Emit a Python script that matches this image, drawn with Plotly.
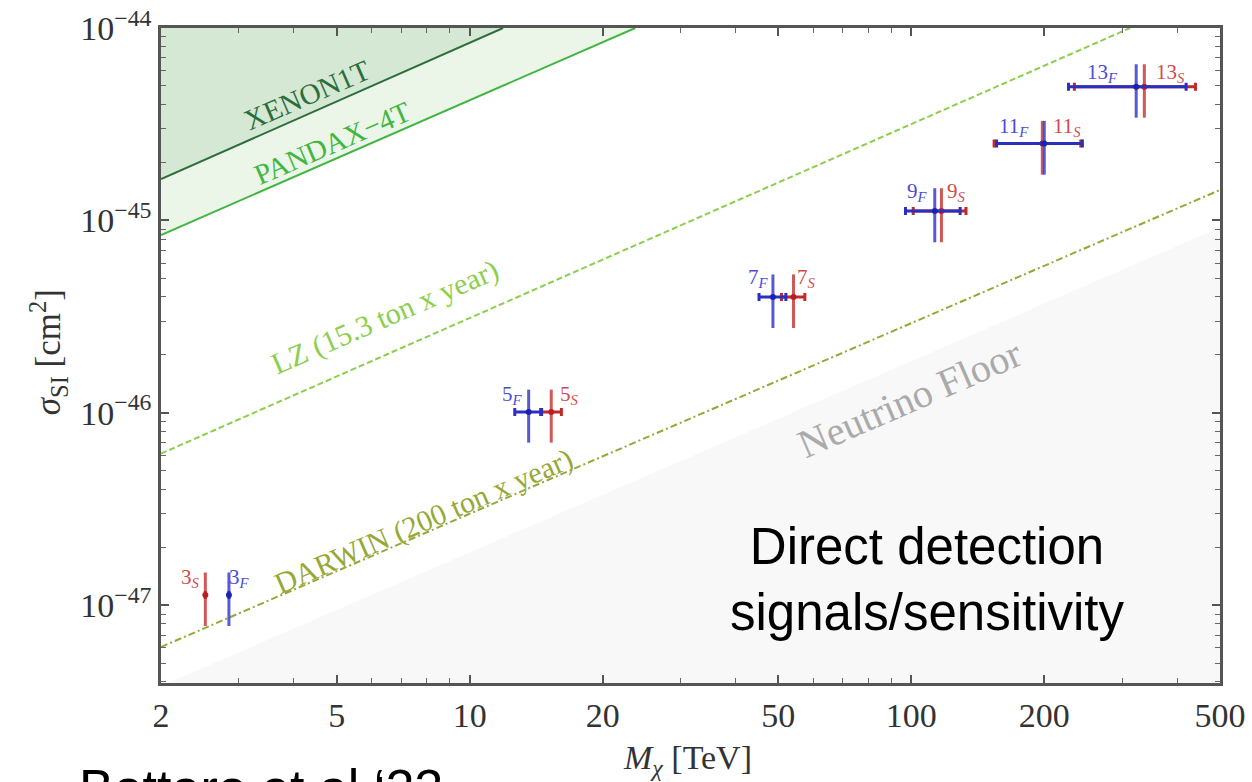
import numpy as np
import plotly.graph_objects as go

# ---- candidate WIMP multiplets: masses [TeV] and SI cross sections [cm^2] ----
multiplet_n = ["3", "5", "7", "9", "11", "13"]
mass_F = [2.85, 13.6, 48.6, 113, 200, 323]
mass_S = [2.52, 15.3, 54.1, 117, 198, 337]
mass_F_err = [0, 0.95, 3.4, 16, 44, 96]
mass_S_err = [0, 0.83, 3.3, 16, 44, 103]
sigma_SI = [1.13e-47, 1.01e-46, 4.0e-46, 1.12e-45, 2.51e-45, 4.95e-45]
sigma_SI_err = [0.35e-47, 0.31e-46, 1.24e-46, 0.35e-45, 0.78e-45, 1.53e-45]

# ---- experimental limits / projections (straight lines in log-log) ----
xenon_M = [2, 11.9]
xenon_sigma = [1.64e-45, 1e-44]
pandax_M = [2, 23.7]
pandax_sigma = [8.4e-46, 1e-44]
lz_M = [2, 313]
lz_sigma = [6.14e-47, 1e-44]
darwin_M = [2, 500]
darwin_sigma = [6.07e-48, 1.44e-45]
floor_M = [2, 500]
floor_sigma = [3.8e-48, 9.2e-46]

# axis limits
M_min, M_max = 2, 500
sig_min, sig_max = 10 ** -47.404, 1e-44

x_ticks = [2, 5, 10, 20, 50, 100, 200, 500]
y_ticks = [1e-47, 1e-46, 1e-45, 1e-44]
y_ticktext = ["10<sup>\u221247</sup>", "10<sup>\u221246</sup>",
              "10<sup>\u221245</sup>", "10<sup>\u221244</sup>"]

SERIF = "Liberation Serif"
SANS = "Liberation Sans"

fig = go.Figure()

# neutrino floor (grey region)
fig.add_trace(go.Scatter(
    x=floor_M + [floor_M[1], floor_M[0]],
    y=floor_sigma + [1e-49, 1e-49],
    fill="toself", fillcolor="#f8f8f8", line=dict(width=0),
    mode="lines", hoverinfo="skip", showlegend=False))

# PANDAX-4T excluded band
fig.add_trace(go.Scatter(
    x=pandax_M + [xenon_M[1], xenon_M[0]],
    y=pandax_sigma + [xenon_sigma[1], xenon_sigma[0]],
    fill="toself", fillcolor="#ebf6e9", line=dict(width=0),
    mode="lines", hoverinfo="skip", showlegend=False))

# XENON1T excluded region
fig.add_trace(go.Scatter(
    x=xenon_M + [xenon_M[0]],
    y=xenon_sigma + [sig_max],
    fill="toself", fillcolor="#d5e8d4", line=dict(width=0),
    mode="lines", hoverinfo="skip", showlegend=False))

# limit lines
fig.add_trace(go.Scatter(x=xenon_M, y=xenon_sigma, mode="lines",
                         line=dict(color="#2b6e3a", width=2), showlegend=False))
fig.add_trace(go.Scatter(x=pandax_M, y=pandax_sigma, mode="lines",
                         line=dict(color="#41b640", width=2), showlegend=False))
fig.add_trace(go.Scatter(x=lz_M, y=lz_sigma, mode="lines",
                         line=dict(color="#8ccf4c", width=2, dash="6px,3px"),
                         showlegend=False))
fig.add_trace(go.Scatter(x=darwin_M, y=darwin_sigma, mode="lines",
                         line=dict(color="#96a836", width=2, dash="7px,3px,2px,3px"),
                         showlegend=False))

# signal points: S (red) below, F (blue) on top
fig.add_trace(go.Scatter(
    x=mass_S, y=sigma_SI, mode="markers",
    marker=dict(color="#b82020", size=6),
    error_x=dict(type="data", array=mass_S_err, color="#c02a2a",
                 thickness=3, width=4),
    error_y=dict(type="data", array=sigma_SI_err, color="rgba(205,70,70,0.9)",
                 thickness=3, width=0),
    showlegend=False))
fig.add_trace(go.Scatter(
    x=mass_F, y=sigma_SI, mode="markers",
    marker=dict(color="#1c22b0", size=6),
    error_x=dict(type="data", array=mass_F_err, color="#2a30bd",
                 thickness=3, width=4),
    error_y=dict(type="data", array=sigma_SI_err, color="rgba(70,70,215,0.9)",
                 thickness=3, width=0),
    showlegend=False))

annotations = []

# multiplet labels: pixel offsets from each point
F_shift = [(11, 17), (-16, 17), (-14, 19), (-17, 19), (-30, 17), (-34, 14)]
S_shift = [(-15, 17), (18, 17), (13, 19), (15, 19), (25, 17), (26, 14)]
for i, n in enumerate(multiplet_n):
    annotations.append(dict(
        x=np.log10(mass_F[i]), y=np.log10(sigma_SI[i]),
        xshift=F_shift[i][0], yshift=F_shift[i][1],
        text=f"{n}<sub><i>F</i></sub>", showarrow=False,
        font=dict(family=SERIF, size=21, color="#4b4bd6")))
    annotations.append(dict(
        x=np.log10(mass_S[i]), y=np.log10(sigma_SI[i]),
        xshift=S_shift[i][0], yshift=S_shift[i][1],
        text=f"{n}<sub><i>S</i></sub>", showarrow=False,
        font=dict(family=SERIF, size=21, color="#cf4b4b")))

# line labels, rotated along the curves
ANG = -23.5
line_labels = [
    ("XENON1T", 4.28, -44.348, "#2b6e3a", 29),
    ("PANDAX\u22124T", 4.88, -44.598, "#41b640", 29),
    ("LZ (15.3 ton x year)", 6.43, -45.503, "#8ccf4c", 30),
    ("DARWIN (200 ton x year)", 7.88, -46.564, "#96a836", 30),
    ("Neutrino Floor", 99.3, -45.924, "#aaaaaa", 40),
]
for txt, m, ls, col, fs in line_labels:
    annotations.append(dict(
        x=np.log10(m), y=ls, text=txt, showarrow=False, textangle=ANG,
        font=dict(family=SERIF, size=fs, color=col)))

# axis titles
annotations.append(dict(
    xref="paper", yref="paper", x=-0.1067, y=0.505,
    xanchor="center", yanchor="middle",
    text="<i>\u03c3</i><sub>SI</sub> [cm<sup>2</sup>]", textangle=-90,
    showarrow=False, font=dict(family=SERIF, size=35, color="#333333")))
annotations.append(dict(
    xref="paper", yref="paper", x=0.4976, y=-0.1176,
    xanchor="center", yanchor="middle",
    text="<i>M<sub>\u03c7</sub></i> [TeV]",
    showarrow=False, font=dict(family=SERIF, size=34, color="#333333")))

# slide captions
annotations.append(dict(
    xref="paper", yref="paper", x=0.7233, y=0.061,
    xanchor="center", yanchor="bottom",
    text="Direct detection<br>signals/sensitivity", align="center",
    showarrow=False, font=dict(family=SANS, size=51, color="#000000")))
annotations.append(dict(
    xref="paper", yref="paper", x=-0.079, y=-0.113,
    xanchor="left", yanchor="top",
    text="Bottaro et al \u201822", showarrow=False,
    font=dict(family=SANS, size=52, color="#000000")))

x_minor = [v * d for d in (1, 10, 100) for v in (3, 4, 6, 7, 8, 9)]
y_minor = [v * 10.0 ** e for e in (-48, -47, -46, -45) for v in range(2, 10)]

fig.update_layout(
    width=1252, height=782,
    margin=dict(l=161, r=32, t=28, b=99),
    paper_bgcolor="white", plot_bgcolor="white",
    annotations=annotations,
    xaxis=dict(
        type="log", range=[np.log10(M_min), np.log10(M_max)],
        automargin=False,
        tickmode="array", tickvals=x_ticks, ticktext=[str(v) for v in x_ticks],
        ticks="inside", ticklen=8, tickwidth=1.5, tickcolor="#555555",
        showline=True, linecolor="#555555", linewidth=2.5, mirror="allticks",
        showgrid=False, zeroline=False,
        tickfont=dict(family=SERIF, size=34, color="#333333"),
        minor=dict(tickmode="array", tickvals=x_minor, ticks="inside",
                   ticklen=5, tickwidth=1.2, tickcolor="#666666", showgrid=False),
    ),
    yaxis=dict(
        type="log", range=[np.log10(sig_min), np.log10(sig_max)],
        automargin=False,
        tickmode="array", tickvals=y_ticks, ticktext=y_ticktext,
        ticks="inside", ticklen=8, tickwidth=1.5, tickcolor="#555555",
        showline=True, linecolor="#555555", linewidth=2.5, mirror="allticks",
        showgrid=False, zeroline=False,
        tickfont=dict(family=SERIF, size=34, color="#333333"),
        minor=dict(tickmode="array", tickvals=y_minor, ticks="inside",
                   ticklen=5, tickwidth=1.2, tickcolor="#666666", showgrid=False),
    ),
)

fig.write_html("out.html")
